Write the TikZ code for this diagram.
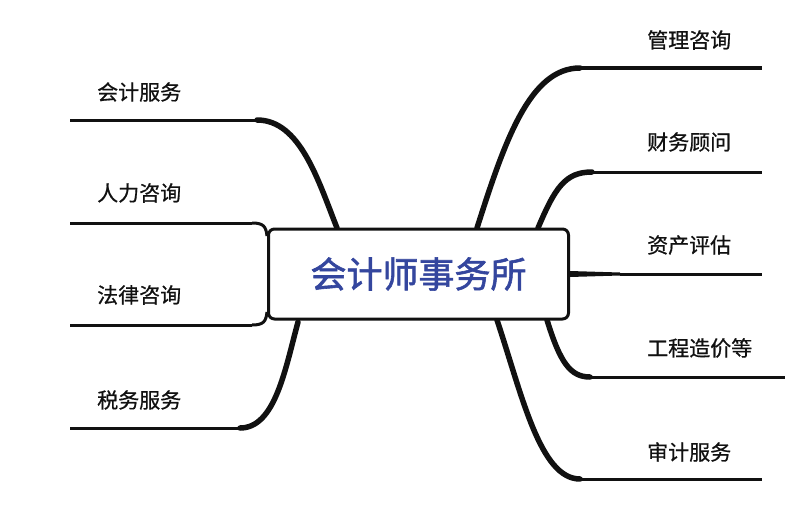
\documentclass[tikz,border=0pt]{standalone}
\usepackage{fontspec}
\setmainfont{Noto Sans CJK SC}[FakeBold=0.6,AutoFakeBold=0.6]
\newfontfamily\titlefont{Noto Sans CJK SC}[FakeBold=1.6]
\newfontfamily\labelfont{Noto Sans CJK SC}[FakeBold=0.7]
\definecolor{titleblue}{RGB}{52,70,158}
\definecolor{ink}{RGB}{17,17,17}
\begin{document}
\begin{tikzpicture}[x=1pt,y=-1pt,
  hubbox/.style={draw=ink,line width=3pt,rounded corners=6pt,fill=white,
    minimum width=300pt,minimum height=90pt,inner sep=0pt,
    font=\titlefont\fontsize{36}{40}\selectfont,text=titleblue},
  lbl/.style={anchor=west,inner sep=0pt,font=\labelfont\fontsize{21}{25}\selectfont,text=ink},
  stem/.style={draw=ink,line width=5.5pt,line cap=round},
  twig/.style={draw=ink,line width=3pt}]
\useasboundingbox (0,0) rectangle (800,519);

% coordinates
\coordinate (l1s) at (337,228); \coordinate (l1a) at (257,120); \coordinate (l1e) at (70,120);
\coordinate (l2s) at (267,236); \coordinate (l2a) at (252,223); \coordinate (l2e) at (70,223);
\coordinate (l3s) at (267,312); \coordinate (l3a) at (252,325); \coordinate (l3e) at (70,325);
\coordinate (l4s) at (298,322); \coordinate (l4a) at (240,428); \coordinate (l4e) at (70,428);
\coordinate (r1s) at (477,228); \coordinate (r1a) at (580,68);  \coordinate (r1e) at (762,68);
\coordinate (r2s) at (538,228); \coordinate (r2a) at (592,172); \coordinate (r2e) at (762,172);
\coordinate (r3s) at (570,274); \coordinate (r3a) at (620,274); \coordinate (r3e) at (762,274);
\coordinate (r4s) at (547,320); \coordinate (r4a) at (590,377); \coordinate (r4e) at (785,377);
\coordinate (r5s) at (497,320); \coordinate (r5a) at (580,479); \coordinate (r5e) at (762,479);

% branches
\draw[twig] (l1a) -- (l1e);
\draw[stem] (l1s) .. controls (318,180) and (300,120) .. (l1a);
\draw[twig] (l2a) -- (l2e);
\draw[twig] (l2s) .. controls (266,226) and (263,223) .. (l2a);
\draw[twig] (l3a) -- (l3e);
\draw[twig] (l3s) .. controls (266,322) and (263,325) .. (l3a);
\draw[twig] (l4a) -- (l4e);
\draw[stem] (l4s) .. controls (285,370) and (275,428) .. (l4a);

\draw[twig] (r1a) -- (r1e);
\draw[stem] (r1s) .. controls (505,140) and (530,68) .. (r1a);
\draw[twig] (r2a) -- (r2e);
\draw[stem] (r2s) .. controls (555,188) and (565,172) .. (r2a);
\draw[twig] (r3a) -- (r3e);
\fill[ink] ([yshift=3pt]r3s) -- ([yshift=1.5pt]r3a) -- ([yshift=-1.5pt]r3a) -- ([yshift=-3pt]r3s) -- cycle;
\draw[twig] (r4a) -- (r4e);
\draw[stem] (r4s) .. controls (560,362) and (570,377) .. (r4a);
\draw[twig] (r5a) -- (r5e);
\draw[stem] (r5s) .. controls (522,395) and (540,479) .. (r5a);

% hub
\node[hubbox] (hub) at (418.5,274) {会计师事务所};

% labels
\node[lbl] (t1) at (97,92) {会计服务};
\node[lbl] (t2) at (97,193) {人力咨询};
\node[lbl] (t3) at (97,295) {法律咨询};
\node[lbl] (t4) at (97,400) {税务服务};
\node[lbl] (u1) at (647,40) {管理咨询};
\node[lbl] (u2) at (647,142) {财务顾问};
\node[lbl] (u3) at (647,245) {资产评估};
\node[lbl] (u4) at (647,348) {工程造价等};
\node[lbl] (u5) at (647,452) {审计服务};
\end{tikzpicture}
\end{document}
